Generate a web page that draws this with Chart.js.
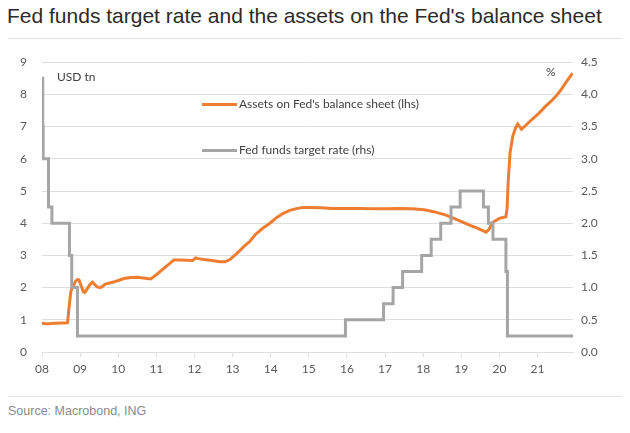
<!DOCTYPE html>
<html>
<head>
<meta charset="utf-8">
<script src="https://cdn.jsdelivr.net/npm/chart.js@4/dist/chart.umd.min.js"></script>
<style>
  body { margin: 0; background: #fff; width: 630px; height: 433px; position: relative; overflow: hidden; }
  #title { position: absolute; left: 7px; top: 4px; font: 21px "Liberation Sans", Arial, sans-serif; color: #2b2b2b; white-space: nowrap; }
  .rule { position: absolute; left: 8px; width: 614px; height: 1px; background: #e3e3e3; }
  #wrap { position: absolute; left: 0; top: 40px; width: 630px; height: 352px; }
  .note { position: absolute; font: 12px Lato, sans-serif; color: #404040; white-space: nowrap; }
  .key { position: absolute; width: 35px; height: 3px; }
  #source { position: absolute; left: 8px; top: 404px; font: 12.5px "Liberation Sans", Arial, sans-serif; color: #8a8a8a; }
</style>
</head>
<body>
<div id="title">Fed funds target rate and the assets on the Fed's balance sheet</div>
<div class="rule" style="top:38px"></div>
<div id="wrap"><canvas id="chart"></canvas></div>
<div class="note" style="left:57px; top:69px">USD tn</div>
<div class="note" style="left:546px; top:64px">%</div>
<div class="key" style="left:202px; top:103px; background:#ED7D31"></div>
<div class="note" style="left:239px; top:96px">Assets on Fed's balance sheet (lhs)</div>
<div class="key" style="left:202px; top:149px; background:#A5A5A5"></div>
<div class="note" style="left:239px; top:142px">Fed funds target rate (rhs)</div>
<div class="rule" style="top:396px"></div>
<div id="source">Source: Macrobond, ING</div>

<script>
// Balans Fed (USD tn), tijd als jaartal met fractie
const assetDates = [
  2008.00, 2008.10, 2008.20, 2008.30, 2008.40, 2008.50, 2008.60, 2008.67, 2008.72, 2008.76,
  2008.82, 2008.88, 2008.93, 2008.97, 2009.03, 2009.08, 2009.12, 2009.18, 2009.25, 2009.32,
  2009.38, 2009.45, 2009.52, 2009.58, 2009.65, 2009.72, 2009.80, 2009.90, 2010.00, 2010.15,
  2010.33, 2010.50, 2010.65, 2010.85, 2011.00, 2011.15, 2011.30, 2011.46, 2011.60, 2011.80,
  2011.95, 2012.03, 2012.10, 2012.25, 2012.45, 2012.67, 2012.80, 2012.93, 2013.10, 2013.30,
  2013.45, 2013.60, 2013.80, 2013.98, 2014.15, 2014.32, 2014.50, 2014.70, 2014.85, 2015.00,
  2015.30, 2015.63, 2016.00, 2016.33, 2016.70, 2017.00, 2017.40, 2017.70, 2018.03, 2018.30,
  2018.60, 2018.90, 2019.20, 2019.45, 2019.65, 2019.72, 2019.82, 2020.00, 2020.17, 2020.20,
  2020.23, 2020.28, 2020.35, 2020.42, 2020.48, 2020.53, 2020.58, 2020.70, 2020.85, 2021.04,
  2021.20, 2021.35, 2021.48, 2021.60, 2021.75, 2021.92
];
const assetValues = [
  0.89, 0.88, 0.88, 0.89, 0.89, 0.90, 0.90, 0.91, 1.50, 1.90,
  2.05, 2.20, 2.25, 2.24, 2.05, 1.88, 1.85, 1.95, 2.08, 2.17,
  2.10, 2.02, 2.00, 2.03, 2.10, 2.13, 2.15, 2.18, 2.22, 2.28,
  2.31, 2.32, 2.30, 2.27, 2.40, 2.55, 2.70, 2.86, 2.86, 2.85,
  2.84, 2.92, 2.90, 2.87, 2.84, 2.80, 2.80, 2.87, 3.05, 3.28,
  3.43, 3.65, 3.85, 4.00, 4.17, 4.30, 4.40, 4.46, 4.49, 4.49,
  4.48, 4.46, 4.46, 4.46, 4.45, 4.45, 4.46, 4.45, 4.42, 4.35,
  4.25, 4.10, 3.95, 3.83, 3.72, 3.80, 4.02, 4.15, 4.20, 4.45,
  5.30, 6.20, 6.70, 6.95, 7.08, 7.00, 6.92, 7.05, 7.22, 7.42,
  7.62, 7.78, 7.94, 8.12, 8.38, 8.66
];

// Fed funds target (%), datum van elke wijziging en het nieuwe niveau
const rateDates = [
  2008.00, 2008.02, 2008.03, 2008.17, 2008.26, 2008.72, 2008.78, 2008.93, 2015.96, 2016.96,
  2017.21, 2017.46, 2017.96, 2018.21, 2018.46, 2018.73, 2018.97, 2019.58, 2019.71, 2019.83,
  2020.17, 2020.21, 2021.93
];
const rateValues = [
  4.25, 3.5, 3.0, 2.25, 2.0, 1.5, 1.0, 0.25, 0.5, 0.75,
  1.0, 1.25, 1.5, 1.75, 2.0, 2.25, 2.5, 2.25, 2.0, 1.75,
  1.25, 0.25, 0.25
];

const yearTicks = [2008, 2009, 2010, 2011, 2012, 2013, 2014, 2015, 2016, 2017, 2018, 2019, 2020, 2021];

const tickFont = { family: "Lato", size: 12 };
const tickColor = "#595959";
const gridColor = "#dedede";

new Chart(document.getElementById("chart"), {
  type: "line",
  data: {
    datasets: [
      {
        label: "Fed funds target rate (rhs)",
        data: rateDates.map((d, i) => ({ x: d, y: rateValues[i] })),
        yAxisID: "yR",
        borderColor: "#A5A5A5",
        borderWidth: 3,
        stepped: true,
        pointRadius: 0,
        order: 0
      },
      {
        label: "Assets on Fed's balance sheet (lhs)",
        data: assetDates.map((d, i) => ({ x: d, y: assetValues[i] })),
        yAxisID: "yL",
        borderColor: "#ED7D31",
        borderWidth: 3,
        tension: 0,
        pointRadius: 0,
        order: 1
      }
    ]
  },
  options: {
    responsive: true,
    maintainAspectRatio: false,
    animation: false,
    layout: { padding: { top: 19, left: 0, right: 0, bottom: 0 } },
    plugins: { legend: { display: false }, tooltip: { enabled: false } },
    scales: {
      x: {
        type: "linear",
        min: 2008,
        max: 2021.93,
        afterBuildTicks: s => { s.ticks = yearTicks.map(v => ({ value: v })); },
        afterFit: s => { s.height = 40; },
        ticks: {
          font: tickFont, color: tickColor, padding: 5, maxRotation: 0, autoSkip: false,
          callback: v => String(v).slice(2)
        },
        grid: { drawOnChartArea: false, drawTicks: true, tickLength: 5, color: gridColor },
        border: { display: true, color: gridColor, width: 1 }
      },
      yL: {
        position: "left",
        min: 0, max: 9,
        afterFit: s => { s.width = 42; },
        ticks: { stepSize: 1, font: tickFont, color: tickColor, padding: 15 },
        grid: { color: gridColor, drawTicks: false },
        border: { display: false }
      },
      yR: {
        position: "right",
        min: 0, max: 4.5,
        afterFit: s => { s.width = 57; },
        ticks: { stepSize: 0.5, font: tickFont, color: tickColor, padding: 8, callback: v => v.toFixed(1) },
        grid: { drawOnChartArea: false, drawTicks: false },
        border: { display: false }
      }
    }
  }
});
</script>
</body>
</html>
